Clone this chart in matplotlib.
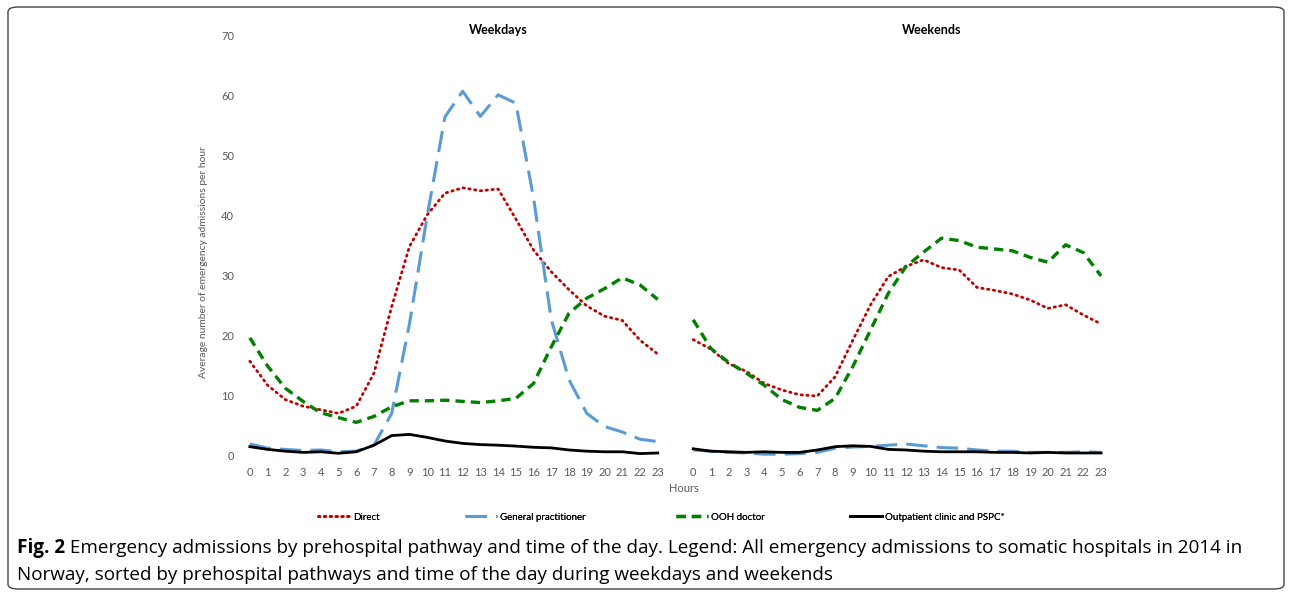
import matplotlib
matplotlib.use("Agg")
import matplotlib.pyplot as plt
from matplotlib.patches import FancyBboxPatch

# hours of the day, shown twice (weekdays, then weekends)
hours = list(range(24))

weekday_direct = [15.8, 11.8, 9.4, 8.3, 7.7, 7.1, 8.3, 13.8, 24.9, 34.9, 40.2, 43.8,
                  44.7, 44.2, 44.5, 39.5, 34.3, 30.7, 27.7, 25.0, 23.3, 22.6, 19.3, 17.0]
weekday_gp = [2.0, 1.3, 1.1, 0.9, 1.0, 0.7, 0.8, 1.8, 7.1, 22.0, 40.0, 56.5,
              60.8, 56.6, 60.2, 58.8, 43.0, 22.7, 12.7, 7.1, 4.9, 4.0, 2.8, 2.4]
weekday_ooh = [19.7, 15.0, 11.3, 9.1, 7.2, 6.4, 5.6, 6.6, 8.2, 9.2, 9.2, 9.3,
               9.1, 8.9, 9.2, 9.6, 12.1, 18.2, 23.8, 26.3, 27.9, 29.7, 28.5, 26.1]
weekday_outpatient = [1.55, 1.1, 0.8, 0.6, 0.7, 0.45, 0.7, 1.8, 3.4, 3.6, 3.1, 2.5,
                      2.1, 1.9, 1.8, 1.65, 1.45, 1.35, 1.0, 0.8, 0.7, 0.7, 0.4, 0.5]

weekend_direct = [19.4, 17.8, 15.4, 14.1, 12.1, 11.0, 10.2, 10.0, 13.2, 19.3, 25.2, 29.9,
                  31.6, 32.7, 31.4, 31.0, 28.1, 27.6, 27.0, 26.0, 24.6, 25.2, 23.5, 22.0]
weekend_gp = [1.0, 0.8, 0.6, 0.5, 0.3, 0.3, 0.4, 0.6, 1.3, 1.5, 1.6, 1.8,
              2.0, 1.7, 1.4, 1.3, 1.0, 0.8, 0.8, 0.6, 0.6, 0.6, 0.7, 0.6]
weekend_ooh = [22.7, 17.9, 15.6, 13.8, 11.8, 9.4, 8.1, 7.6, 9.6, 14.9, 21.0, 27.1,
               31.6, 34.0, 36.3, 35.9, 34.8, 34.5, 34.2, 33.1, 32.3, 35.2, 33.9, 30.0]
weekend_outpatient = [1.2, 0.8, 0.7, 0.6, 0.7, 0.6, 0.6, 1.0, 1.55, 1.7, 1.6, 1.1,
                      1.0, 0.8, 0.7, 0.7, 0.7, 0.6, 0.6, 0.5, 0.6, 0.5, 0.5, 0.5]

series_names = ["Direct", "General practitioner", "OOH doctor", "Outpatient clinic and PSPC*"]
caption_bold = "Fig. 2"
caption_rest = (" Emergency admissions by prehospital pathway and time of the day. Legend: All emergency "
                "admissions to somatic hospitals in 2014 in")
caption_line2 = "Norway, sorted by prehospital pathways and time of the day during weekdays and weekends"

plt.rcParams['font.family'] = ['Lato', 'DejaVu Sans']
grey = '#595959'

fig = plt.figure(figsize=(12.92, 5.97), dpi=100)
ax = fig.add_axes([0.1865, 0.2362, 0.6726, 0.7035])

# weekend block sits after one empty category
x_wd = hours
x_we = [h + 25 for h in hours]

styles = [
    dict(color='#c00000', lw=2.0, linestyle=(0, (0.5, 1.6)), dash_capstyle='round'),
    dict(color='#5b9bd5', lw=2.2, linestyle=(0, (7, 3))),
    dict(color='#008000', lw=2.4, linestyle=(0, (2.8, 1.8))),
    dict(color='#000000', lw=2.0, linestyle='-'),
]
wd = [weekday_direct, weekday_gp, weekday_ooh, weekday_outpatient]
we = [weekend_direct, weekend_gp, weekend_ooh, weekend_outpatient]

handles = []
for i in range(4):
    h, = ax.plot(x_wd, wd[i], **styles[i])
    ax.plot(x_we, we[i], **styles[i])
    handles.append(h)

ax.set_xlim(-0.5, 48.5)
ax.set_ylim(0, 70)
ax.set_yticks(range(0, 71, 10))
ax.set_xticks(x_wd + x_we)
ax.set_xticklabels([str(h) for h in hours] * 2)
ax.tick_params(axis='both', length=0, labelsize=8, labelcolor=grey)
ax.tick_params(axis='x', pad=8)
ax.tick_params(axis='y', pad=5)
for s in ax.spines.values():
    s.set_visible(False)

fig.text(498 / 1292, 1 - 30 / 597, "Weekdays", ha='center', va='center', fontsize=9, fontweight='bold')
fig.text(932 / 1292, 1 - 30 / 597, "Weekends", ha='center', va='center', fontsize=9, fontweight='bold')
fig.text(684 / 1292, 1 - 489 / 597, "Hours", ha='center', va='center', fontsize=8, color=grey)
fig.text(204 / 1292, 1 - 262 / 597, "Average number of emergency admissions per hour",
         ha='center', va='center', rotation=90, fontsize=7.4, color=grey)

# legend entries spread along the bottom like the Excel one
leg_x = [318, 465, 676, 850]
for i in range(4):
    lg = fig.legend(handles=[handles[i]], labels=[series_names[i]], loc='center left',
                    bbox_to_anchor=(leg_x[i] / 1292, 1 - 517 / 597), frameon=False,
                    fontsize=7, handlelength=3.3, handletextpad=0.3, borderpad=0, borderaxespad=0)
    fig.add_artist(lg)

# caption
t = fig.text(17 / 1292, 1 - 548 / 597, caption_bold, ha='left', va='center', fontsize=13.6,
             fontweight='bold', family=['Open Sans', 'DejaVu Sans'])
fig.canvas.draw()
bb = t.get_window_extent(renderer=fig.canvas.get_renderer())
fig.text(bb.x1 / 1292, 1 - 548 / 597, caption_rest, ha='left', va='center', fontsize=13.6,
         family=['Open Sans', 'DejaVu Sans'])
fig.text(17 / 1292, 1 - 575 / 597, caption_line2, ha='left', va='center', fontsize=13.6,
         family=['Open Sans', 'DejaVu Sans'])

box = FancyBboxPatch((8 / 1292, 8 / 597), 1276 / 1292, 582 / 597,
                     boxstyle="round,pad=0,rounding_size=0.008", transform=fig.transFigure,
                     fill=False, edgecolor='#444444', lw=1.0)
fig.patches.append(box)

fig.savefig("out.png", dpi=100)
